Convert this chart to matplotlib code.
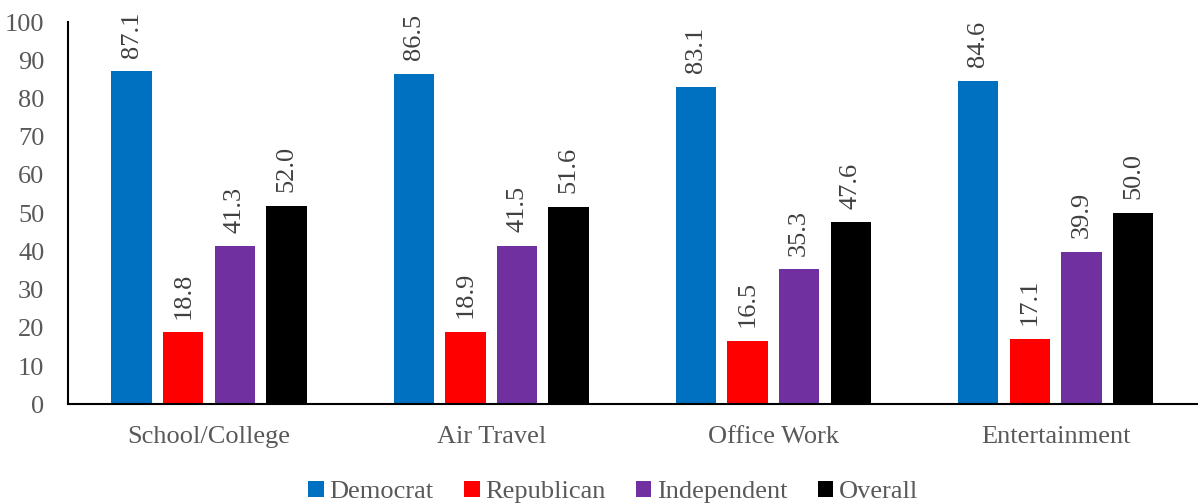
import numpy as np
from matplotlib import pyplot as plt

plt.rcParams['font.family'] = ['Liberation Serif', 'DejaVu Serif']

categories = ["School/College", "Air Travel", "Office Work", "Entertainment"]
series_names = ["Democrat", "Republican", "Independent", "Overall"]
democrat = [87.1, 86.5, 83.1, 84.6]
republican = [18.8, 18.9, 16.5, 17.1]
independent = [41.3, 41.5, 35.3, 39.9]
overall = [52.0, 51.6, 47.6, 50.0]
colors = ["#0070C0", "#FF0000", "#7030A0", "#000000"]

fig = plt.figure(figsize=(11.99, 5.04), dpi=100)
ax = fig.add_axes([0.0567, 0.198, 0.9413, 0.758])

x = np.arange(len(categories))
width = 0.143
step = 0.183
offsets = (np.arange(4) - 1.5) * step

for i, (name, vals) in enumerate(zip(series_names, [democrat, republican, independent, overall])):
    bars = ax.bar(x + offsets[i], vals, width, color=colors[i], label=name)
    for b, v in zip(bars, vals):
        ax.text(b.get_x() + b.get_width() / 2, v + 3.6, f"{v:.1f}", rotation=90,
                ha="center", va="bottom", fontsize=19, color="#404040")

ax.set_xlim(-0.5, 3.5)
ax.set_ylim(0, 100)
ax.set_yticks(range(0, 101, 10))
ax.set_xticks(x)
ax.set_xticklabels(categories)
ax.tick_params(axis="both", length=0, labelsize=19, labelcolor="#595959")
ax.tick_params(axis="x", pad=16)
ax.tick_params(axis="y", pad=17)
ax.spines["top"].set_visible(False)
ax.spines["right"].set_visible(False)
ax.spines["left"].set_linewidth(1.5)
ax.spines["bottom"].set_linewidth(1.5)

leg = ax.legend(loc="center", bbox_to_anchor=(0.483, -0.23), ncol=4, frameon=False,
                fontsize=19, handlelength=0.6, handleheight=0.6, handletextpad=0.2,
                columnspacing=1.15, labelcolor="#595959")

fig.savefig("out.png", dpi=100)
